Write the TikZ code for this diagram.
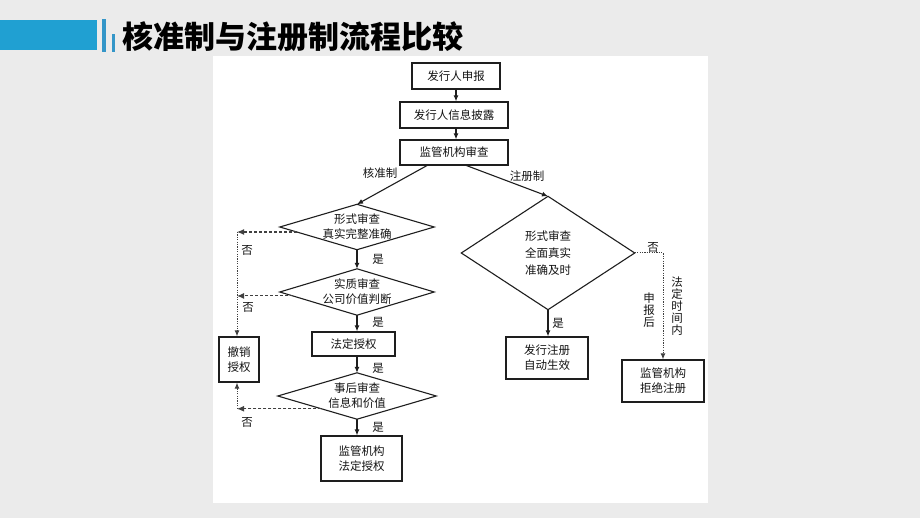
\documentclass[tikz,border=0pt]{standalone}
\usepackage{fontspec}
\setmainfont{Noto Sans CJK SC}
\usetikzlibrary{arrows.meta,calc}
\definecolor{bgc}{RGB}{235,235,235}
\definecolor{tblue}{RGB}{32,160,210}
\definecolor{tblue2}{RGB}{52,150,200}
\definecolor{linec}{RGB}{30,30,30}
\definecolor{txtc}{RGB}{20,20,20}
\begin{document}
\begin{tikzpicture}[x=1pt,y=-1pt,
  every node/.style={text=txtc},
  box/.style={draw=linec, line width=1.2pt, inner sep=0pt, align=center,
    font=\fontsize{11.5}{15}\selectfont},
  dia/.style={inner sep=0pt, align=center, font=\fontsize{11.5}{15}\selectfont},
  ln/.style={draw=linec, line width=1.1pt},
  arr/.style={draw=linec, line width=1.1pt, -{Latex[length=6pt,width=5pt]}},
  dasharr/.style={draw=linec!85, line width=1.1pt, dash pattern=on 3pt off 2pt, -{Latex[length=7pt,width=6pt]}},
  dotarr/.style={draw=linec!85, line width=1pt, dash pattern=on 1.2pt off 1.2pt, -{Latex[length=6pt,width=5pt]}},
  lbl/.style={inner sep=0pt, font=\fontsize{11.5}{14}\selectfont},
  vlbl/.style={inner sep=0pt, align=center, font=\fontsize{11.5}{12}\selectfont},
]
\useasboundingbox (0,0) rectangle (920,518);
\fill[bgc] (0,0) rectangle (920,518);
\fill[white] (213,56) rectangle (708,503);
% title bar
\fill[tblue] (0,20) rectangle (97,50);
\fill[tblue2] (102,19) rectangle (106,52);
\fill[tblue2] (112,34) rectangle (115,52);
\node[anchor=west, inner sep=0pt, text=black, font=\fontsize{31}{34}\selectfont\bfseries] (title) at (122,37) {核准制与注册制流程比较};

% top boxes
\node[box, minimum width=88, minimum height=26] (b1) at (456,76) {发行人申报};
\node[box, minimum width=108, minimum height=26] (b2) at (454,115) {发行人信息披露};
\node[box, minimum width=108, minimum height=25] (b3) at (454,152.5) {监管机构审查};
\draw[arr] (b1.south) -- (b1.south |- b2.north);
\draw[arr] (b1.south |- b2.south) -- (b1.south |- b3.north);

% diamonds
\node[dia, minimum width=154, minimum height=45] (d1) at (357,227) {形式审查\\真实完整准确};
\node[dia, minimum width=154, minimum height=46] (d2) at (357,292) {实质审查\\公司价值判断};
\node[dia, minimum width=158, minimum height=46] (d3) at (357,396) {事后审查\\信息和价值};
\node[dia, minimum width=173, minimum height=113, font=\fontsize{11.5}{17}\selectfont] (r1) at (548,253) {形式审查\\全面真实\\准确及时};
\foreach \n in {d1,d2,d3,r1}
  \draw[ln] (\n.north) -- (\n.east) -- (\n.south) -- (\n.west) -- cycle;

% other boxes
\node[box, minimum width=83, minimum height=24] (fd) at (353.5,344) {法定授权};
\node[box, minimum width=40, minimum height=45] (cx) at (239,359.5) {撤销\\授权};
\node[box, minimum width=81, minimum height=45] (jg) at (361.5,458.5) {监管机构\\法定授权};
\node[box, minimum width=82, minimum height=42] (fz) at (547,358) {发行注册\\自动生效};
\node[box, minimum width=82, minimum height=42] (jj) at (663,381) {监管机构\\拒绝注册};

% branch lines
\coordinate (bl) at (428,165);
\coordinate (br) at (465,165);
\draw[arr] (bl) -- (d1.north);
\draw[arr] (br) -- (r1.north);
\node[lbl] (lk) at (380,173) {核准制};
\node[lbl] (lz) at (527,176) {注册制};

% left column arrows
\draw[arr] (d1.south) -- (d2.north);
\draw[arr] (d2.south) -- (d2.south |- fd.north);
\draw[arr] (d3.north |- fd.south) -- (d3.north);
\draw[arr] (d3.south) -- (d3.south |- jg.north);
\node[lbl] (y1) at (378,259) {是};
\node[lbl] (y2) at (378,322) {是};
\node[lbl] (y3) at (378,368) {是};
\node[lbl] (y4) at (378,427) {是};

% reject paths
\coordinate (p1) at ($(d1.west)!0.22!(d1.south)$);
\coordinate (p2) at ($(d2.west)!0.17!(d2.south)$);
\coordinate (p3) at ($(d3.west)!0.55!(d3.south)$);
\coordinate (c1) at (237,0 |- p1);
\coordinate (c2) at (237,0 |- p2);
\coordinate (c3) at (237,0 |- p3);
\draw[dasharr] (p1) -- (c1);
\draw[dasharr] (p2) -- (c2);
\draw[dasharr] (p3) -- (c3);
\draw[dotarr] (c1) -- (c1 |- cx.north);
\draw[dotarr] (c3) -- (c3 |- cx.south);
\node[lbl] (n1) at (247,250) {否};
\node[lbl] (n2) at (248,307) {否};
\node[lbl] (n3) at (247,422) {否};

% right branch
\draw[arr] (r1.south) -- (r1.south |- fz.north);
\node[lbl] (y5) at (558,323) {是};
\draw[dotarr] (r1.east) -| (jj.north);
\node[lbl] (n4) at (653,247) {否};
\node[vlbl] (sb) at (649,310) {申\\报\\后};
\node[vlbl] (fdsj) at (677,306) {法\\定\\时\\间\\内};
\end{tikzpicture}
\end{document}
